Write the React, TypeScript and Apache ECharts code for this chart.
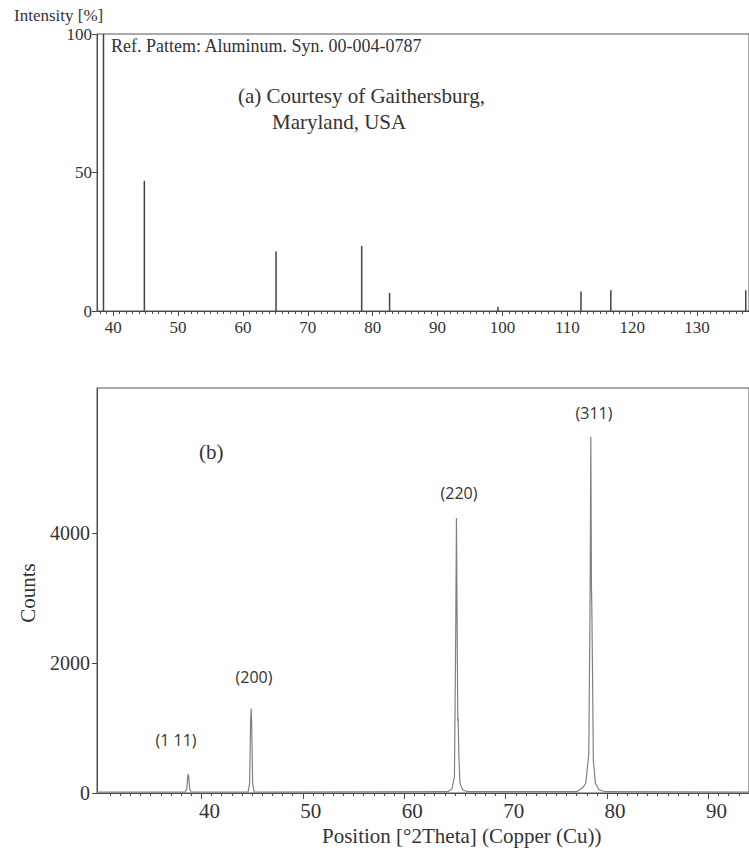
import React, { useEffect, useRef } from "react";
import * as echarts from "echarts";

// ---- Top chart (a): reference pattern sticks ----
const refPositions = [38.5, 44.8, 65.1, 78.3, 82.6, 99.3, 112.1, 116.7, 137.5];
const refIntensity = [100, 47, 21.5, 23.5, 6.5, 1.5, 7, 7.5, 7.5];
const topXTicks = [40, 50, 60, 70, 80, 90, 100, 110, 120, 130];
const topYTicks = [0, 50, 100];

// ---- Bottom chart (b): measured profile ----
const profileX = [
  29.7, 38.4, 38.55, 38.65, 38.7, 38.75, 38.85, 39.0,
  44.6, 44.75, 44.85, 44.9, 44.95, 45.05, 45.2,
  64.3, 64.7, 64.95, 65.08, 65.15, 65.22, 65.28, 65.32, 65.38, 65.5, 65.75, 66.2,
  77.0, 77.4, 77.6, 77.9, 78.2, 78.33, 78.4, 78.46, 78.5, 78.56, 78.65, 78.85, 79.2, 79.8,
  94,
];
const profileCounts = [
  15, 15, 60, 250, 290, 240, 50, 15,
  15, 150, 1100, 1300, 1100, 150, 15,
  20, 60, 250, 2500, 4230, 2500, 1100, 1150, 600, 150, 50, 20,
  20, 60, 80, 150, 600, 3000, 5480, 3200, 2850, 2000, 500, 150, 50, 20,
  15,
];
const bottomXTicks = [40, 50, 60, 70, 80, 90];
const bottomYTicks = [0, 2000, 4000];
const peakLabels = ["(1 11)", "(200)", "(220)", "(311)"];

const serif = "Liberation Serif";
const sans = "Open Sans";
const ink = "#333333";
const axisInk = "#4a4a4a";

function minorList(from: number, to: number, skipEvery: number) {
  const out: number[] = [];
  for (let v = from; v <= to; v++) if (v % skipEvery !== 0) out.push(v);
  return out;
}

const plain = (v: number) => String(v);

export default function App() {
  const ref = useRef<HTMLDivElement>(null);
  useEffect(() => {
    if (!ref.current) return;
    const chart = echarts.init(ref.current, null, { renderer: "svg" });
    const topData = refPositions.map((x, i) => [x, refIntensity[i]]);
    const profile = profileX.map((x, i) => [x, profileCounts[i]]);

    const option: any = {
      animation: false,
      backgroundColor: "#ffffff",
      textStyle: { fontFamily: serif },
      grid: [
        { left: 97, right: -2, top: 34, bottom: 541, show: true, borderColor: "#555", borderWidth: 1, backgroundColor: "transparent" },
        { left: 97, right: -3, top: 388, bottom: 59, show: true, borderColor: "#555", borderWidth: 1, backgroundColor: "transparent" },
      ],
      xAxis: [
        {
          gridIndex: 0, type: "value", position: "bottom", min: 37.5, max: 138,
          axisLine: { show: true, lineStyle: { color: axisInk, width: 1 } },
          axisTick: { show: true, customValues: topXTicks, length: 5, lineStyle: { color: axisInk } },
          axisLabel: { customValues: topXTicks, formatter: plain, color: ink, fontFamily: serif, fontSize: 17, margin: 8 },
          splitLine: { show: false },
        },
        {
          gridIndex: 0, type: "value", position: "bottom", min: 37.5, max: 138,
          axisLine: { show: false },
          axisTick: { show: true, customValues: minorList(38, 137, 10), length: 3, lineStyle: { color: axisInk } },
          axisLabel: { show: false },
          splitLine: { show: false },
        },
        {
          gridIndex: 1, type: "value", position: "bottom", min: 29.7, max: 94,
          axisLine: { show: true, lineStyle: { color: axisInk, width: 1 } },
          axisTick: { show: true, customValues: bottomXTicks, length: 6, lineStyle: { color: axisInk } },
          axisLabel: { customValues: bottomXTicks, formatter: plain, color: ink, fontFamily: serif, fontSize: 21, margin: 7, padding: [0, 0, 0, 16] },
          splitLine: { show: false },
        },
        {
          gridIndex: 1, type: "value", position: "bottom", min: 29.7, max: 94,
          axisLine: { show: false },
          axisTick: { show: true, customValues: minorList(30, 93, 10), length: 3, lineStyle: { color: axisInk } },
          axisLabel: { show: false },
          splitLine: { show: false },
        },
      ],
      yAxis: [
        {
          gridIndex: 0, type: "value", min: 0, max: 100,
          axisLine: { show: true, lineStyle: { color: axisInk, width: 1 } },
          axisTick: { show: true, customValues: topYTicks, length: 5, lineStyle: { color: axisInk } },
          axisLabel: { customValues: topYTicks, formatter: plain, color: ink, fontFamily: serif, fontSize: 17, margin: 5, padding: [6, 0, 0, 0] },
          splitLine: { show: false },
        },
        {
          gridIndex: 1, type: "value", min: 0, max: 6230,
          axisLine: { show: true, lineStyle: { color: axisInk, width: 1 } },
          axisTick: { show: true, customValues: bottomYTicks, length: 5, lineStyle: { color: axisInk } },
          axisLabel: { customValues: bottomYTicks, formatter: plain, color: ink, fontFamily: serif, fontSize: 20, margin: 7, padding: [16, 0, 0, 0] },
          splitLine: { show: false },
        },
      ],
      series: [
        {
          type: "bar", xAxisIndex: 0, yAxisIndex: 0, data: topData,
          barWidth: 1.5, itemStyle: { color: "#444" }, silent: true,
        },
        {
          type: "line", xAxisIndex: 2, yAxisIndex: 1, data: profile,
          showSymbol: false, lineStyle: { color: "#808080", width: 1.2 }, silent: true,
        },
      ],
      graphic: [
        { type: "text", left: 14, top: 7, style: { text: "Intensity [%]", font: `17px ${serif}`, fill: ink } },
        { type: "text", left: 111, top: 37, style: { text: "Ref. Pattem: Aluminum. Syn. 00-004-0787", font: `18px ${serif}`, fill: ink } },
        { type: "text", left: 238, top: 85, style: { text: "(a) Courtesy of Gaithersburg,", font: `21px ${serif}`, fill: ink } },
        { type: "text", left: 272, top: 111, style: { text: "Maryland, USA", font: `21px ${serif}`, fill: ink } },
        { type: "text", left: 199, top: 441, style: { text: "(b)", font: `21px ${serif}`, fill: ink } },
        { type: "text", x: 28, y: 593, rotation: Math.PI / 2, style: { text: "Counts", font: `21px ${serif}`, fill: ink, align: "center", verticalAlign: "middle" } },
        { type: "text", left: 322, top: 825, style: { text: "Position [°2Theta] (Copper (Cu))", font: `21px ${serif}`, fill: ink } },
        { type: "text", x: 176, y: 740, style: { text: peakLabels[0], font: `16px ${sans}`, fill: ink, align: "center", verticalAlign: "middle" } },
        { type: "text", x: 254, y: 677, style: { text: peakLabels[1], font: `16px ${sans}`, fill: ink, align: "center", verticalAlign: "middle" } },
        { type: "text", x: 459, y: 493, style: { text: peakLabels[2], font: `16px ${sans}`, fill: ink, align: "center", verticalAlign: "middle" } },
        { type: "text", x: 594, y: 413, style: { text: peakLabels[3], font: `16px ${sans}`, fill: ink, align: "center", verticalAlign: "middle" } },
      ],
    };
    chart.setOption(option);
    return () => chart.dispose();
  }, []);
  return <div ref={ref} style={{ position: "absolute", left: 0, top: 0, width: 749, height: 852 }} />;
}
